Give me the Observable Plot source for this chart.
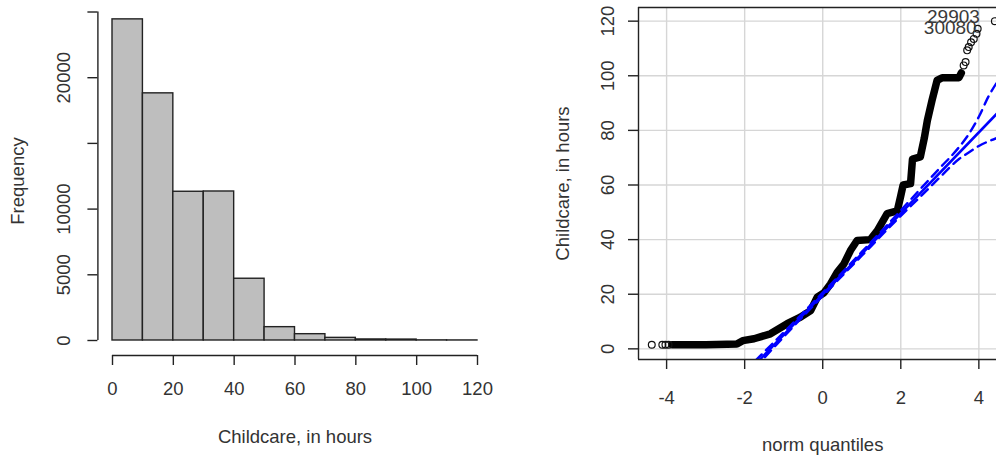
<!DOCTYPE html>
<html><head><meta charset="utf-8">
<script src="https://cdn.jsdelivr.net/npm/d3@7"></script>
<script src="https://cdn.jsdelivr.net/npm/@observablehq/plot@0.6"></script>
<style>
html,body{margin:0;padding:0;background:#fff;}
#wrap{position:relative;width:996px;height:457px;overflow:hidden;background:#fff;}
#wrap svg{position:absolute;top:0;}
</style></head><body><div id="wrap"></div>
<script>
// ---- Histogram data ----
const binEdges = [0, 10, 20, 30, 40, 50, 60, 70, 80, 90, 100, 110, 120];
const binCounts = [24440, 18810, 11320, 11340, 4700, 1015, 480, 200, 80, 70, 10, 5];
const histXTicks = [0, 20, 40, 60, 80, 100, 120];
const histYTicks = [0, 5000, 10000, 15000, 20000, 25000];
const histYLabels = [0, 5000, 10000, 20000];

// ---- QQ plot data ----
const qqBandQ = [-3.86, -3.0, -2.45, -2.2, -2.05, -1.76, -1.34, -0.91, -0.57, -0.31, -0.14, 0.03, 0.2, 0.37, 0.54, 0.71, 0.88, 1.22, 1.4, 1.65, 1.91, 1.99, 2.06, 2.25, 2.3, 2.5, 2.6, 2.68, 2.8, 2.93, 3.06, 3.49, 3.55];
const qqBandV = [1.5, 1.5, 1.7, 1.8, 3.0, 3.7, 5.5, 9.2, 11.6, 14.0, 18.9, 20.5, 23.8, 28.0, 31.0, 36.0, 39.7, 40.0, 43.3, 49.5, 50.5, 55.5, 60.0, 60.5, 69.5, 70.3, 77.0, 83.6, 91.0, 98.3, 99.3, 99.3, 101.0];
const qqPointQ = [-4.38, -4.11, -4.03, -3.95, 3.61, 3.66, 3.70, 3.74, 3.80, 3.87, 3.94, 3.97, 4.41];
const qqPointV = [1.5, 1.5, 1.5, 1.5, 103.8, 105.0, 109.3, 110.5, 112.3, 113.5, 115.4, 117.2, 120.0];
const qqIdText = ["29903", "30080"];
const qqIdQ = [4.41, 3.97];
const qqIdV = [120.0, 117.2];
const refLineQ = [-2.0, 4.46];
const refLineV = [-9.7, 86.1];
const envQ  = [-2.0, -1.0, 0, 1.0, 2.0, 2.5, 3.0, 3.5, 3.75, 4.0, 4.25, 4.46];
const envHi = [-8.2, 6.0, 20.6, 35.5, 50.7, 58.5, 66.2, 74.0, 78.8, 85.0, 92.5, 97.5];
const envLo = [-11.2, 4.4, 19.4, 34.1, 48.7, 55.7, 62.8, 69.6, 72.0, 74.3, 76.0, 77.2];
const qqXTicks = [-4, -2, 0, 2, 4];
const qqYTicks = [0, 20, 40, 60, 80, 100, 120];

const FONT = "'Liberation Sans', Arial, sans-serif";
const FS = 18.5;
const INK = "#222";
const TXT = "#333";
const style = {fontFamily: FONT, fontSize: FS + "px", color: TXT, background: "#fff", overflow: "visible"};

// ---- Left: histogram ----
const bins = binCounts.map((c, i) => ({x1: binEdges[i], x2: binEdges[i + 1], count: c}));
const hx = [-4.8, 124.8], hy = [-1142, 25419];
const left = Plot.plot({
  width: 498, height: 457,
  marginLeft: 97.4, marginRight: 6.4, marginTop: 6, marginBottom: 102,
  x: {domain: hx}, y: {domain: hy},
  style,
  marks: [
    Plot.rectY(bins, {x1: "x1", x2: "x2", y: "count", fill: "#bebebe", stroke: INK, strokeWidth: 1.4}),
    Plot.ruleX([hx[0]], {y1: histYTicks[0], y2: histYTicks[histYTicks.length - 1], stroke: INK, strokeWidth: 1.4}),
    Plot.axisY(histYTicks, {anchor: "left", tickSize: 10, tickFormat: () => "", label: null, stroke: INK, strokeWidth: 1.4}),
    Plot.text(histYLabels, {y: d => d, text: d => String(d), frameAnchor: "left", textAnchor: "middle", lineAnchor: "middle", rotate: -90, dx: -34, fontSize: FS}),
    Plot.ruleY([hy[0]], {x1: histXTicks[0], x2: histXTicks[histXTicks.length - 1], stroke: INK, strokeWidth: 1.4}),
    Plot.axisX(histXTicks, {anchor: "bottom", tickSize: 10, tickPadding: 16, label: null, stroke: INK, strokeWidth: 1.4, fontSize: FS}),
    Plot.text(["Frequency"], {text: d => d, frameAnchor: "left", textAnchor: "middle", lineAnchor: "middle", rotate: -90, dx: -80, fontSize: FS}),
    Plot.text(["Childcare, in hours"], {text: d => d, frameAnchor: "bottom", lineAnchor: "middle", dy: 82, fontSize: FS})
  ]
});
left.style.left = "0px";

// ---- Right: QQ plot ----
const band = qqBandQ.map((q, i) => ({q, v: qqBandV[i]}));
const pts = qqPointQ.map((q, i) => ({q, v: qqPointV[i]}));
const ids = qqIdText.map((t, i) => ({t, q: qqIdQ[i], v: qqIdV[i]}));
const ref = refLineQ.map((q, i) => ({q, v: refLineV[i]}));
const hi = envQ.map((q, i) => ({q, v: envHi[i]}));
const lo = envQ.map((q, i) => ({q, v: envLo[i]}));
const qx = [-4.72, 4.452], qy = [-3.9, 125];
const fmt = d => (d < 0 ? "-" + Math.abs(d) : String(d));
const right = Plot.plot({
  width: 498, height: 457,
  marginLeft: 140, marginRight: 0, marginTop: 7, marginBottom: 98,
  x: {domain: qx}, y: {domain: qy},
  style,
  marks: [
    Plot.gridX(qqXTicks, {stroke: "#d6d6d6", strokeOpacity: 1, strokeWidth: 1.4}),
    Plot.gridY(qqYTicks, {stroke: "#d6d6d6", strokeOpacity: 1, strokeWidth: 1.4}),
    Plot.line(band, {x: "q", y: "v", stroke: "#000", strokeWidth: 7.5, strokeLinecap: "round", strokeLinejoin: "round"}),
    Plot.dot(pts, {x: "q", y: "v", r: 3.4, stroke: "#111", strokeWidth: 1.2, fill: "none"}),
    Plot.line(ref, {x: "q", y: "v", stroke: "blue", strokeWidth: 2.6, clip: true}),
    Plot.line(hi, {x: "q", y: "v", stroke: "blue", strokeWidth: 2.4, strokeDasharray: "9,6", clip: true, curve: "monotone-x"}),
    Plot.line(lo, {x: "q", y: "v", stroke: "blue", strokeWidth: 2.4, strokeDasharray: "9,6", clip: true, curve: "monotone-x"}),
    Plot.text([ids[0]], {x: "q", y: "v", text: "t", textAnchor: "end", lineAnchor: "middle", dx: -15, dy: -4, fontSize: 19, fill: "#3a3a3a"}),
    Plot.text([ids[1]], {x: "q", y: "v", text: "t", textAnchor: "end", lineAnchor: "middle", dx: -1, dy: -1, fontSize: 19, fill: "#3a3a3a"}),
    Plot.ruleX([qx[0]], {stroke: INK, strokeWidth: 1.4}),
    Plot.ruleY([qy[0]], {stroke: INK, strokeWidth: 1.4}),
    Plot.ruleY([qy[1]], {stroke: INK, strokeWidth: 1.4}),
    Plot.axisY(qqYTicks, {anchor: "left", tickSize: 10, tickFormat: () => "", label: null, stroke: INK, strokeWidth: 1.4}),
    Plot.text(qqYTicks, {y: d => d, text: d => String(d), frameAnchor: "left", textAnchor: "middle", lineAnchor: "middle", rotate: -90, dx: -30, fontSize: FS}),
    Plot.axisX(qqXTicks, {anchor: "bottom", tickSize: 10, tickPadding: 21, tickFormat: fmt, label: null, stroke: INK, strokeWidth: 1.4, fontSize: FS}),
    Plot.text(["Childcare, in hours"], {text: d => d, frameAnchor: "left", textAnchor: "middle", lineAnchor: "middle", rotate: -90, dx: -75, fontSize: FS}),
    Plot.text(["norm quantiles"], {x: 0, text: d => d, frameAnchor: "bottom", lineAnchor: "middle", dy: 86, fontSize: FS})
  ]
});
right.style.left = "498px";

const wrap = document.getElementById("wrap");
wrap.appendChild(left);
wrap.appendChild(right);
</script>
</body></html>
